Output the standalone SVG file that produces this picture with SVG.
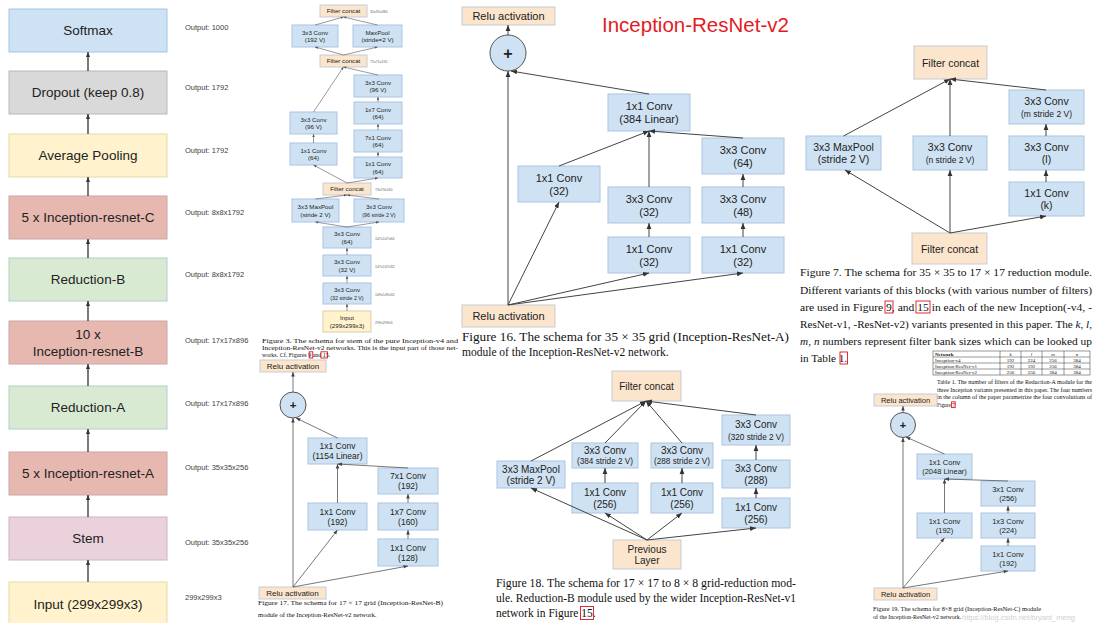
<svg xmlns="http://www.w3.org/2000/svg" width="1097" height="623" viewBox="0 0 1097 623">
<defs>
<style>
.s{font-family:"Liberation Sans",Arial,sans-serif;fill:#222;text-anchor:middle}
.o{font-family:"Liberation Sans",Arial,sans-serif;font-size:7.5px}
.cap{font-family:"Liberation Serif","Times New Roman",serif;fill:#111}
.cv{fill:#cfe2f3;stroke:#a9c4e2;stroke-width:1}
.pe{fill:#fce5cd;stroke:#c5cbd5;stroke-width:1}
.ye{fill:#fff2cc;stroke:#d9cfa8;stroke-width:1}
.ci{fill:#cfe2f3;stroke:#555;stroke-width:1}
.c{fill:none;stroke:#444;stroke-width:1;marker-end:url(#a)}
.cm{fill:none;stroke:#555;stroke-width:0.8;marker-end:url(#am)}
.cs{fill:none;stroke:#555;stroke-width:0.6;marker-end:url(#as)}
.cl{fill:none;stroke:#333;stroke-width:1.3;marker-end:url(#al)}
.lk{fill:none;stroke:#e0141b;stroke-width:0.9}
.tb{fill:none;stroke:#333;stroke-width:0.5}
.st{font-size:6.2px}
.ss{font-size:5.3px}
.lbl{font-family:"Liberation Sans",Arial,sans-serif;fill:#666;font-size:3.6px}
.it{font-style:italic}
</style>
<marker id="a" viewBox="0 0 10 10" refX="10" refY="5" markerWidth="6" markerHeight="6" markerUnits="userSpaceOnUse" orient="auto"><path d="M0,1 L10,5 L0,9z" fill="#333"/></marker>
<marker id="am" viewBox="0 0 10 10" refX="10" refY="5" markerWidth="4.5" markerHeight="4.5" markerUnits="userSpaceOnUse" orient="auto"><path d="M0,1 L10,5 L0,9z" fill="#444"/></marker>
<marker id="as" viewBox="0 0 10 10" refX="10" refY="5" markerWidth="3" markerHeight="3" markerUnits="userSpaceOnUse" orient="auto"><path d="M0,1 L10,5 L0,9z" fill="#555"/></marker>
<marker id="al" viewBox="0 0 10 10" refX="10" refY="5" markerWidth="5" markerHeight="5" markerUnits="userSpaceOnUse" orient="auto"><path d="M0,1 L10,5 L0,9z" fill="#333"/></marker>
</defs>
<rect x="0" y="0" width="1097" height="623" fill="#ffffff"/>

<!-- ===== Overall network column ===== -->
<g id="col-softmax"><rect x="9" y="9" width="158" height="43" fill="#cfe2f3" stroke="#9fc5e8"/><text class="s" x="88" y="35.2" font-size="13.5">Softmax</text></g>
<g id="col-dropout"><rect x="9" y="71" width="158" height="43" fill="#d9d9d9" stroke="#b7b7b7"/><text class="s" x="88" y="97.2" font-size="13.5">Dropout (keep 0.8)</text></g>
<g id="col-avgpool"><rect x="9" y="134" width="158" height="43" fill="#fff2cc" stroke="#e6d9a8"/><text class="s" x="88" y="160.2" font-size="13.5">Average Pooling</text></g>
<g id="col-resC"><rect x="9" y="196" width="158" height="43" fill="#e6b8af" stroke="#c9a6a6"/><text class="s" x="88" y="222.2" font-size="13.5">5 x Inception-resnet-C</text></g>
<g id="col-redB"><rect x="9" y="258" width="158" height="43" fill="#d9ead3" stroke="#b5cfc4"/><text class="s" x="88" y="284.2" font-size="13.5">Reduction-B</text></g>
<g id="col-resB"><rect x="9" y="321" width="158" height="43" fill="#e6b8af" stroke="#c9a6a6"/><text class="s" x="88" font-size="13.5"><tspan x="88" y="338.7">10 x</tspan><tspan x="88" y="355.7">Inception-resnet-B</tspan></text></g>
<g id="col-redA"><rect x="9" y="386" width="158" height="43" fill="#d9ead3" stroke="#b5cfc4"/><text class="s" x="88" y="412.2" font-size="13.5">Reduction-A</text></g>
<g id="col-resA"><rect x="9" y="452" width="158" height="43" fill="#e6b8af" stroke="#c9a6a6"/><text class="s" x="88" y="478.2" font-size="13.5">5 x Inception-resnet-A</text></g>
<g id="col-stem"><rect x="9" y="517" width="158" height="43" fill="#ead1dc" stroke="#c8b6c8"/><text class="s" x="88" y="543.2" font-size="13.5">Stem</text></g>
<g id="col-input"><rect x="9" y="582" width="158" height="46" fill="#fff2cc" stroke="#e6d9a8"/><text class="s" x="88" y="608.7" font-size="13.5">Input (299x299x3)</text></g>

<g id="col-outputs" fill="#404040">
<text class="o" x="185" y="29.5">Output: 1000</text>
<text class="o" x="185" y="89.5">Output: 1792</text>
<text class="o" x="185" y="152.5">Output: 1792</text>
<text class="o" x="185" y="214.5">Output: 8x8x1792</text>
<text class="o" x="185" y="276.5">Output: 8x8x1792</text>
<text class="o" x="185" y="342.5">Output: 17x17x896</text>
<text class="o" x="185" y="405.5">Output: 17x17x896</text>
<text class="o" x="185" y="469.5">Output: 35x35x256</text>
<text class="o" x="185" y="544.5">Output: 35x35x256</text>
<text class="o" x="185" y="599.5">299x299x3</text>
</g>

<!-- ===== Stem ===== -->
<g id="stem-fc1"><rect class="pe" x="320" y="5" width="47" height="12"/><text class="s st" x="343.5" y="13.2">Filter concat</text><text class="lbl" x="370" y="12.5">35x35x384</text></g>
<g id="stem-c192"><rect class="cv" x="292" y="25" width="46" height="22"/><text class="s st"><tspan x="315" y="34.5">3x3 Conv</tspan><tspan x="315" y="42">(192 V)</tspan></text></g>
<g id="stem-mp1"><rect class="cv" x="353" y="25" width="49" height="22"/><text class="s st"><tspan x="377.5" y="34.5">MaxPool</tspan><tspan x="377.5" y="42">(stride=2 V)</tspan></text></g>
<g id="stem-fc2"><rect class="pe" x="320" y="55" width="47" height="12"/><text class="s st" x="343.5" y="63.2">Filter concat</text><text class="lbl" x="370" y="62.5">71x71x192</text></g>
<g id="stem-r3x3"><rect class="cv" x="354" y="75" width="48" height="22"/><text class="s st"><tspan x="378" y="84.5">3x3 Conv</tspan><tspan x="378" y="92">(96 V)</tspan></text></g>
<g id="stem-r1x7"><rect class="cv" x="354" y="102" width="48" height="22"/><text class="s st"><tspan x="378" y="111.5">1x7 Conv</tspan><tspan x="378" y="119">(64)</tspan></text></g>
<g id="stem-r7x1"><rect class="cv" x="354" y="130" width="48" height="22"/><text class="s st"><tspan x="378" y="139.5">7x1 Conv</tspan><tspan x="378" y="147">(64)</tspan></text></g>
<g id="stem-r1x1"><rect class="cv" x="354" y="157" width="48" height="21"/><text class="s st"><tspan x="378" y="166">1x1 Conv</tspan><tspan x="378" y="173.5">(64)</tspan></text></g>
<g id="stem-l3x3"><rect class="cv" x="290" y="112" width="47" height="22"/><text class="s st"><tspan x="313.5" y="121.5">3x3 Conv</tspan><tspan x="313.5" y="129">(96 V)</tspan></text></g>
<g id="stem-l1x1"><rect class="cv" x="290" y="143" width="47" height="22"/><text class="s st"><tspan x="313.5" y="152.5">1x1 Conv</tspan><tspan x="313.5" y="160">(64)</tspan></text></g>
<g id="stem-fc3"><rect class="pe" x="323" y="183" width="48" height="12"/><text class="s st" x="347" y="191.2">Filter concat</text><text class="lbl" x="375" y="190.5">73x73x160</text></g>
<g id="stem-mp2"><rect class="cv" x="292" y="199" width="47" height="23"/><text class="s st"><tspan x="315.5" y="209">3x3 MaxPool</tspan><tspan x="315.5" y="216.5">(stride 2 V)</tspan></text></g>
<g id="stem-c96s"><rect class="cv" x="354" y="199" width="50" height="23"/><text class="s"><tspan class="st" x="379" y="209">3x3 Conv</tspan><tspan class="ss" x="379" y="216.5">(96 stride 2 V)</tspan></text></g>
<g id="stem-c64"><rect class="cv" x="323" y="227" width="48" height="21"/><text class="s st"><tspan x="347" y="236">3x3 Conv</tspan><tspan x="347" y="243.5">(64)</tspan></text><text class="lbl" x="375" y="239.5">147x147x64</text></g>
<g id="stem-c32"><rect class="cv" x="323" y="255" width="48" height="21"/><text class="s st"><tspan x="347" y="264">3x3 Conv</tspan><tspan x="347" y="271.5">(32 V)</tspan></text><text class="lbl" x="375" y="267.5">147x147x32</text></g>
<g id="stem-c32s"><rect class="cv" x="323" y="283" width="48" height="21"/><text class="s"><tspan class="st" x="347" y="292">3x3 Conv</tspan><tspan class="ss" x="347" y="299.5">(32 stride 2 V)</tspan></text><text class="lbl" x="375" y="295.5">149x149x32</text></g>
<g id="stem-input"><rect class="ye" x="323" y="311" width="48" height="21"/><text class="s st"><tspan x="347" y="320">Input</tspan><tspan x="347" y="327.5">(299x299x3)</tspan></text><text class="lbl" x="375" y="323.5">299x299x3</text></g>
<g id="stem-caption" class="cap" font-size="6">
<text x="262" y="343" textLength="196" lengthAdjust="spacingAndGlyphs">Figure 3. The schema for stem of the pure Inception-v4 and</text>
<text x="262" y="350" textLength="196" lengthAdjust="spacingAndGlyphs">Inception-ResNet-v2 networks. This is the input part of those net-</text>
<text x="262" y="357">works. Cf. Figures 9 and 15.</text>
<rect class="lk" x="309.2" y="351.8" width="3.6" height="6.2"/>
<rect class="lk" x="320.9" y="351.8" width="6.6" height="6.2"/>
</g>

<!-- ===== Inception-ResNet-A ===== -->
<text x="602" y="32" font-family="Liberation Sans,Arial,sans-serif" font-size="20.5" fill="#e31b23">Inception-ResNet-v2</text>
<g id="a-relu-top"><rect class="pe" x="462" y="7" width="93" height="18"/><text class="s" x="508.5" y="20" font-size="11">Relu activation</text></g>
<g id="a-add"><circle class="ci" cx="508" cy="53" r="18"/><text class="s" x="508" y="58.5" font-size="16" font-weight="bold">+</text></g>
<g id="a-c384"><rect class="cv" x="608" y="94" width="82" height="37"/><text class="s" font-size="11"><tspan x="649" y="110">1x1 Conv</tspan><tspan x="649" y="123">(384 Linear)</tspan></text></g>
<g id="a-c64"><rect class="cv" x="702" y="138" width="82" height="36"/><text class="s" font-size="11"><tspan x="743" y="153.5">3x3 Conv</tspan><tspan x="743" y="166.5">(64)</tspan></text></g>
<g id="a-l32"><rect class="cv" x="518" y="166" width="82" height="36"/><text class="s" font-size="11"><tspan x="559" y="181.5">1x1 Conv</tspan><tspan x="559" y="194.5">(32)</tspan></text></g>
<g id="a-m3x3"><rect class="cv" x="608" y="187" width="82" height="36"/><text class="s" font-size="11"><tspan x="649" y="202.5">3x3 Conv</tspan><tspan x="649" y="215.5">(32)</tspan></text></g>
<g id="a-r3x3"><rect class="cv" x="702" y="187" width="82" height="36"/><text class="s" font-size="11"><tspan x="743" y="202.5">3x3 Conv</tspan><tspan x="743" y="215.5">(48)</tspan></text></g>
<g id="a-m1x1"><rect class="cv" x="608" y="237" width="82" height="36"/><text class="s" font-size="11"><tspan x="649" y="252.5">1x1 Conv</tspan><tspan x="649" y="265.5">(32)</tspan></text></g>
<g id="a-r1x1"><rect class="cv" x="702" y="237" width="82" height="36"/><text class="s" font-size="11"><tspan x="743" y="252.5">1x1 Conv</tspan><tspan x="743" y="265.5">(32)</tspan></text></g>
<g id="a-relu-bottom"><rect class="pe" x="462" y="305" width="93" height="22"/><text class="s" x="508.5" y="320" font-size="11">Relu activation</text></g>
<g id="a-caption" class="cap" font-size="11.5">
<text x="462" y="341" textLength="327" lengthAdjust="spacingAndGlyphs">Figure 16. The schema for 35 × 35 grid (Inception-ResNet-A)</text>
<text x="462" y="356">module of the Inception-ResNet-v2 network.</text>
</g>

<!-- ===== Reduction-A ===== -->
<g id="ra-fc-top"><rect class="pe" x="914" y="46" width="73" height="33"/><text class="s" x="950.5" y="66.5" font-size="10.5">Filter concat</text></g>
<g id="ra-cm"><rect class="cv" x="1009" y="90" width="75" height="34"/><text class="s"><tspan x="1046.5" y="104.5" font-size="10.5">3x3 Conv</tspan><tspan x="1046.5" y="116.5" font-size="8.5">(m stride 2 V)</tspan></text></g>
<g id="ra-mp"><rect class="cv" x="806" y="136" width="75" height="34"/><text class="s" font-size="10.5"><tspan x="843.5" y="150.5">3x3 MaxPool</tspan><tspan x="843.5" y="163">(stride 2 V)</tspan></text></g>
<g id="ra-cn"><rect class="cv" x="913" y="136" width="74" height="34"/><text class="s"><tspan x="950" y="150.5" font-size="10.5">3x3 Conv</tspan><tspan x="950" y="162.5" font-size="8.5">(n stride 2 V)</tspan></text></g>
<g id="ra-cl"><rect class="cv" x="1009" y="136" width="75" height="34"/><text class="s" font-size="10.5"><tspan x="1046.5" y="150.5">3x3 Conv</tspan><tspan x="1046.5" y="163">(l)</tspan></text></g>
<g id="ra-ck"><rect class="cv" x="1009" y="182" width="75" height="34"/><text class="s" font-size="10.5"><tspan x="1046.5" y="196.5">1x1 Conv</tspan><tspan x="1046.5" y="209">(k)</tspan></text></g>
<g id="ra-fc-bottom"><rect class="pe" x="912" y="233" width="75" height="31"/><text class="s" x="949.5" y="252.5" font-size="10.5">Filter concat</text></g>
<g id="ra-caption" class="cap" font-size="11.2">
<text x="800" y="276" textLength="292" lengthAdjust="spacingAndGlyphs">Figure 7. The schema for 35 × 35 to 17 × 17 reduction module.</text>
<text x="800" y="294" textLength="292" lengthAdjust="spacingAndGlyphs">Different variants of this blocks (with various number of filters)</text>
<text x="800" y="311" textLength="292" lengthAdjust="spacingAndGlyphs">are used in Figure 9, and 15 in each of the new Inception(-v4, -</text>
<text x="800" y="328" textLength="272.8" lengthAdjust="spacingAndGlyphs">ResNet-v1, -ResNet-v2) variants presented in this paper. The</text>
<text class="it" x="1075.6" y="328">k</text><text x="1080.5" y="328">,</text><text class="it" x="1086.1" y="328">l</text><text x="1089.2" y="328">,</text>
<text class="it" x="800" y="345">m</text><text x="808.2" y="345">,</text><text class="it" x="813.9" y="345">n</text>
<text x="822.4" y="345" textLength="269.6" lengthAdjust="spacingAndGlyphs">numbers represent filter bank sizes which can be looked up</text>
<text x="800" y="362">in Table 1.</text>
<rect class="lk" x="885" y="301" width="8" height="12"/>
<rect class="lk" x="916" y="301" width="14" height="12"/>
<rect class="lk" x="840" y="352" width="7.5" height="12"/>
</g>

<!-- ===== Table 1 ===== -->
<g id="table1" class="cap" font-size="5">
<rect class="tb" x="933" y="351" width="157" height="24"/>
<line class="tb" x1="933" y1="357" x2="1090" y2="357"/>
<line class="tb" x1="933" y1="363" x2="1090" y2="363"/>
<line class="tb" x1="933" y1="369" x2="1090" y2="369"/>
<line class="tb" x1="1000" y1="351" x2="1000" y2="375"/>
<line class="tb" x1="1021" y1="351" x2="1021" y2="375"/>
<line class="tb" x1="1042" y1="351" x2="1042" y2="375"/>
<line class="tb" x1="1064" y1="351" x2="1064" y2="375"/>
<text x="935" y="355.6" font-weight="bold">Network</text>
<text x="1010.5" y="355.6" text-anchor="middle" font-style="italic">k</text>
<text x="1031.5" y="355.6" text-anchor="middle" font-style="italic">l</text>
<text x="1053" y="355.6" text-anchor="middle" font-style="italic">m</text>
<text x="1077" y="355.6" text-anchor="middle" font-style="italic">n</text>
<text x="935" y="361.6">Inception-v4</text>
<text x="1010.5" y="361.6" text-anchor="middle">192</text><text x="1031.5" y="361.6" text-anchor="middle">224</text><text x="1053" y="361.6" text-anchor="middle">256</text><text x="1077" y="361.6" text-anchor="middle">384</text>
<text x="935" y="367.6">Inception-ResNet-v1</text>
<text x="1010.5" y="367.6" text-anchor="middle">192</text><text x="1031.5" y="367.6" text-anchor="middle">192</text><text x="1053" y="367.6" text-anchor="middle">256</text><text x="1077" y="367.6" text-anchor="middle">384</text>
<text x="935" y="373.6">Inception-ResNet-v2</text>
<text x="1010.5" y="373.6" text-anchor="middle">256</text><text x="1031.5" y="373.6" text-anchor="middle">256</text><text x="1053" y="373.6" text-anchor="middle">384</text><text x="1077" y="373.6" text-anchor="middle">384</text>
</g>
<g id="table1-caption" class="cap" font-size="5.3">
<text x="937" y="384" textLength="155" lengthAdjust="spacingAndGlyphs">Table 1. The number of filters of the Reduction-A module for the</text>
<text x="937" y="391.5" textLength="155" lengthAdjust="spacingAndGlyphs">three Inception variants presented in this paper. The four numbers</text>
<text x="937" y="399" textLength="155" lengthAdjust="spacingAndGlyphs">in the column of the paper parametrize the four convolutions of</text>
<text x="937" y="406.5">Figure 7</text>
<rect class="lk" x="951.6" y="401.8" width="3.6" height="5.8"/>
</g>

<!-- ===== Inception-ResNet-B ===== -->
<g id="b-relu-top"><rect class="pe" x="260" y="360" width="66" height="12"/><text class="s" x="293" y="369" font-size="8">Relu activation</text></g>
<g id="b-add"><circle class="ci" cx="293" cy="405" r="13"/><text class="s" x="293" y="409" font-size="11.5" font-weight="bold">+</text></g>
<g id="b-c1154"><rect class="cv" x="308" y="438" width="59" height="26"/><text class="s" font-size="8.5"><tspan x="337.5" y="449">1x1 Conv</tspan><tspan x="337.5" y="459">(1154 Linear)</tspan></text></g>
<g id="b-c7x1"><rect class="cv" x="378" y="468" width="60" height="26"/><text class="s" font-size="8.5"><tspan x="408" y="479">7x1 Conv</tspan><tspan x="408" y="489">(192)</tspan></text></g>
<g id="b-c192"><rect class="cv" x="308" y="503" width="59" height="27"/><text class="s" font-size="8.5"><tspan x="337.5" y="514.5">1x1 Conv</tspan><tspan x="337.5" y="524.5">(192)</tspan></text></g>
<g id="b-c1x7"><rect class="cv" x="378" y="503" width="60" height="27"/><text class="s" font-size="8.5"><tspan x="408" y="514.5">1x7 Conv</tspan><tspan x="408" y="524.5">(160)</tspan></text></g>
<g id="b-c128"><rect class="cv" x="378" y="539" width="60" height="27"/><text class="s" font-size="8.5"><tspan x="408" y="550.5">1x1 Conv</tspan><tspan x="408" y="560.5">(128)</tspan></text></g>
<g id="b-relu-bottom"><rect class="pe" x="259" y="587" width="67" height="12"/><text class="s" x="292.5" y="596" font-size="8">Relu activation</text></g>
<g id="b-caption" class="cap" font-size="6.6">
<text x="258" y="605" textLength="185" lengthAdjust="spacingAndGlyphs">Figure 17. The schema for 17 × 17 grid (Inception-ResNet-B)</text>
<text x="258" y="617">module of the Inception-ResNet-v2 network.</text>
</g>

<!-- ===== Reduction-B ===== -->
<g id="rb-fc"><rect class="pe" x="612" y="371" width="69" height="30"/><text class="s" x="646.5" y="389.5" font-size="10">Filter concat</text></g>
<g id="rb-c320"><rect class="cv" x="722" y="415" width="68" height="30"/><text class="s"><tspan x="756" y="428" font-size="10">3x3 Conv</tspan><tspan x="756" y="439.5" font-size="8.2">(320 stride 2 V)</tspan></text></g>
<g id="rb-c384"><rect class="cv" x="572" y="443" width="66" height="25"/><text class="s"><tspan x="605" y="453.5" font-size="10">3x3 Conv</tspan><tspan x="605" y="464" font-size="8.2">(384 stride 2 V)</tspan></text></g>
<g id="rb-c288s"><rect class="cv" x="651" y="443" width="62" height="25"/><text class="s"><tspan x="682" y="453.5" font-size="10">3x3 Conv</tspan><tspan x="682" y="464" font-size="8.2">(288 stride 2 V)</tspan></text></g>
<g id="rb-mp"><rect class="cv" x="497" y="461" width="68" height="27"/><text class="s" font-size="10"><tspan x="531" y="472.5">3x3 MaxPool</tspan><tspan x="531" y="484">(stride 2 V)</tspan></text></g>
<g id="rb-c288"><rect class="cv" x="722" y="460" width="68" height="28"/><text class="s" font-size="10"><tspan x="756" y="472">3x3 Conv</tspan><tspan x="756" y="484">(288)</tspan></text></g>
<g id="rb-ca"><rect class="cv" x="572" y="483" width="66" height="30"/><text class="s" font-size="10"><tspan x="605" y="496">1x1 Conv</tspan><tspan x="605" y="508">(256)</tspan></text></g>
<g id="rb-cb"><rect class="cv" x="651" y="483" width="62" height="30"/><text class="s" font-size="10"><tspan x="682" y="496">1x1 Conv</tspan><tspan x="682" y="508">(256)</tspan></text></g>
<g id="rb-cc"><rect class="cv" x="722" y="498" width="68" height="30"/><text class="s" font-size="10"><tspan x="756" y="511">1x1 Conv</tspan><tspan x="756" y="523">(256)</tspan></text></g>
<g id="rb-prev"><rect class="pe" x="613" y="540" width="68" height="29"/><text class="s" font-size="10"><tspan x="647" y="552.5">Previous</tspan><tspan x="647" y="564">Layer</tspan></text></g>
<g id="rb-caption" class="cap" font-size="11.5">
<text x="496" y="587" textLength="300" lengthAdjust="spacingAndGlyphs">Figure 18. The schema for 17 × 17 to 8 × 8 grid-reduction mod-</text>
<text x="496" y="602" textLength="300" lengthAdjust="spacingAndGlyphs">ule. Reduction-B module used by the wider Inception-ResNet-v1</text>
<text x="496" y="617">network in Figure 15.</text>
<rect class="lk" x="580.5" y="606.5" width="13" height="13"/>
</g>

<!-- ===== Inception-ResNet-C ===== -->
<g id="c-relu-top"><rect class="pe" x="874" y="394" width="63" height="12"/><text class="s" x="905.5" y="402.7" font-size="7.5">Relu activation</text></g>
<g id="c-add"><circle class="ci" cx="903" cy="425" r="12.5"/><text class="s" x="903" y="429" font-size="11" font-weight="bold">+</text></g>
<g id="c-c2048"><rect class="cv" x="917" y="454" width="55" height="25"/><text class="s" font-size="7.5"><tspan x="944.5" y="464.5">1x1 Conv</tspan><tspan x="944.5" y="473.5">(2048 Linear)</tspan></text></g>
<g id="c-c3x1"><rect class="cv" x="981" y="481" width="54" height="25"/><text class="s" font-size="7.5"><tspan x="1008" y="491.5">3x1 Conv</tspan><tspan x="1008" y="500.5">(256)</tspan></text></g>
<g id="c-c192l"><rect class="cv" x="917" y="513" width="55" height="25"/><text class="s" font-size="7.5"><tspan x="944.5" y="523.5">1x1 Conv</tspan><tspan x="944.5" y="532.5">(192)</tspan></text></g>
<g id="c-c1x3"><rect class="cv" x="981" y="513" width="54" height="25"/><text class="s" font-size="7.5"><tspan x="1008" y="523.5">1x3 Conv</tspan><tspan x="1008" y="532.5">(224)</tspan></text></g>
<g id="c-c192r"><rect class="cv" x="981" y="546" width="54" height="25"/><text class="s" font-size="7.5"><tspan x="1008" y="556.5">1x1 Conv</tspan><tspan x="1008" y="565.5">(192)</tspan></text></g>
<g id="c-relu-bottom"><rect class="pe" x="874" y="588" width="63" height="12"/><text class="s" x="905.5" y="596.7" font-size="7.5">Relu activation</text></g>
<g id="c-caption" class="cap" font-size="6">
<text x="873" y="611" textLength="168" lengthAdjust="spacingAndGlyphs">Figure 19. The schema for 8×8 grid (Inception-ResNet-C) module</text>
<text x="873" y="619">of the Inception-ResNet-v2 network.</text>
</g>
<text x="962" y="619.5" font-family="Liberation Sans,Arial,sans-serif" font-size="7.5" fill="#cfcfcf">https://blog.csdn.net/bryant_meng</text>

<!-- ===== Connectors ===== -->
<g id="connectors">
<!-- overall column -->
<path class="cl" d="M88,71 V52"/>
<path class="cl" d="M88,134 V114"/>
<path class="cl" d="M88,196 V177"/>
<path class="cl" d="M88,258 V239"/>
<path class="cl" d="M88,321 V301"/>
<path class="cl" d="M88,386 V364"/>
<path class="cl" d="M88,452 V429"/>
<path class="cl" d="M88,517 V495"/>
<path class="cl" d="M88,582 V560"/>
<!-- stem -->
<path class="cs" d="M347,311 V304"/>
<path class="cs" d="M347,283 V276"/>
<path class="cs" d="M347,255 V248"/>
<path class="cs" d="M347,227 L315.5,222"/>
<path class="cs" d="M347,227 L379,222"/>
<path class="cs" d="M315.5,199 L347,195"/>
<path class="cs" d="M379,199 L347,195"/>
<path class="cs" d="M347,183 L313.5,165"/>
<path class="cs" d="M347,183 L378,178"/>
<path class="cs" d="M313.5,143 V134"/>
<path class="cs" d="M313.5,112 L343.5,67"/>
<path class="cs" d="M378,157 V152"/>
<path class="cs" d="M378,130 V124"/>
<path class="cs" d="M378,102 V97"/>
<path class="cs" d="M378,75 L343.5,67"/>
<path class="cs" d="M343.5,55 L315,47"/>
<path class="cs" d="M343.5,55 L377.5,47"/>
<path class="cs" d="M315,25 L343.5,17"/>
<path class="cs" d="M377.5,25 L343.5,17"/>
<!-- Inception-ResNet-A -->
<path class="c" d="M508,305 V71"/>
<path class="c" d="M508,305 L559,202"/>
<path class="c" d="M508,305 L649,273"/>
<path class="c" d="M508,305 L743,273"/>
<path class="c" d="M649,237 V223"/>
<path class="c" d="M649,187 V131"/>
<path class="c" d="M559,166 L649,131"/>
<path class="c" d="M743,237 V223"/>
<path class="c" d="M743,187 V174"/>
<path class="c" d="M743,138 L649,131"/>
<path class="c" d="M649,94 L511,71"/>
<path class="c" d="M508,35 V25"/>
<!-- Reduction-A -->
<path class="c" d="M950,233 L845,170"/>
<path class="c" d="M950,233 V170"/>
<path class="c" d="M950,233 L1046,216"/>
<path class="c" d="M1046,182 V170"/>
<path class="c" d="M1046,136 V124"/>
<path class="c" d="M843.5,136 L950,79"/>
<path class="c" d="M950,136 V79"/>
<path class="c" d="M1046,90 L950,79"/>
<!-- Inception-ResNet-B -->
<path class="cm" d="M293,587 V418"/>
<path class="cm" d="M293,587 L337.5,530"/>
<path class="cm" d="M293,587 L408,566"/>
<path class="cm" d="M408,539 V530"/>
<path class="cm" d="M408,503 V494"/>
<path class="cm" d="M408,468 L337.5,464"/>
<path class="cm" d="M337.5,503 V464"/>
<path class="cm" d="M337.5,438 L296,418"/>
<path class="cm" d="M293,392 V372"/>
<!-- Reduction-B -->
<path class="c" d="M647,540 L531,488"/>
<path class="c" d="M647,540 L605,513"/>
<path class="c" d="M647,540 L682,513"/>
<path class="c" d="M647,540 L756,528"/>
<path class="c" d="M605,483 V468"/>
<path class="c" d="M682,483 V468"/>
<path class="c" d="M756,498 V488"/>
<path class="c" d="M756,460 V445"/>
<path class="c" d="M531,461 L646,401"/>
<path class="c" d="M605,443 L646,401"/>
<path class="c" d="M682,443 L646,401"/>
<path class="c" d="M756,415 L646,401"/>
<!-- Inception-ResNet-C -->
<path class="cm" d="M903,588 V437.5"/>
<path class="cm" d="M903,588 L944.5,538"/>
<path class="cm" d="M903,588 L1008,571"/>
<path class="cm" d="M1008,546 V538"/>
<path class="cm" d="M1008,513 V506"/>
<path class="cm" d="M1008,481 L944.5,479"/>
<path class="cm" d="M944.5,513 V479"/>
<path class="cm" d="M944.5,454 L906,437"/>
<path class="cm" d="M903,412.5 V406"/>
</g>
</svg>
